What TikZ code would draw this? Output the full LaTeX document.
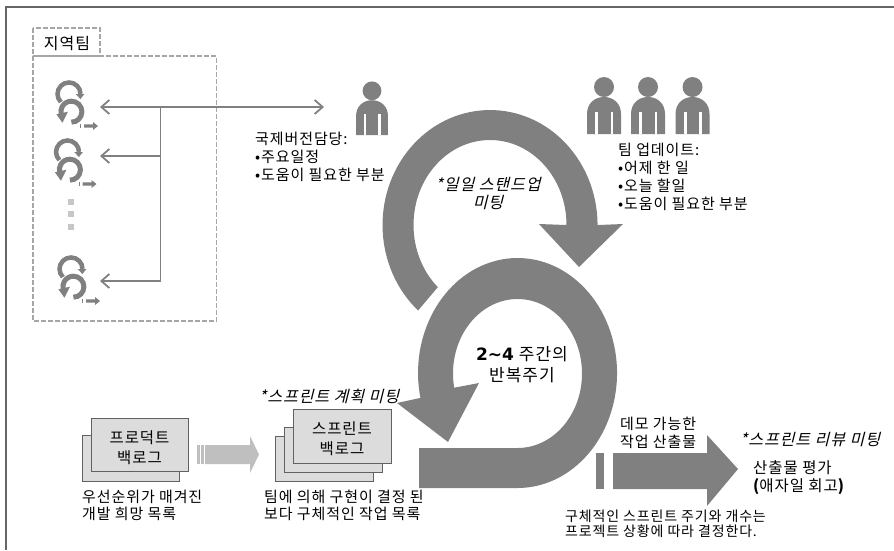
\documentclass[tikz,border=0pt]{standalone}
\usepackage{fontspec}
\setmainfont[LetterSpace=6]{Noto Sans CJK KR}
\newfontfamily\slantkr[FakeSlant=0.25,LetterSpace=6]{Noto Sans CJK KR}
\usetikzlibrary{arrows.meta}
\pgfdeclarelayer{bg}
\pgfsetlayers{bg,main}
\definecolor{scrumgray}{HTML}{808080}
\definecolor{boxfill}{HTML}{DCDCDC}
\tikzset{txt/.style={inner sep=0mm, anchor=north west, align=left, font=\fontsize{15}{18}\selectfont}}
\tikzset{ctxt/.style={inner sep=0mm, align=center, font=\fontsize{16}{20.5}\selectfont}}
\tikzset{meeting/.style={inner sep=0mm, align=center, font=\fontsize{16}{18}\slantkr}}
\tikzset{loopfill/.style={fill=scrumgray, draw=none}}
\tikzset{dashbox/.style={draw=black!35, line width=1.2pt, dash pattern=on 5pt off 2pt}}
\tikzset{stackbox/.style={draw=black!62, fill=boxfill, line width=1pt, inner sep=0mm, align=center, font=\fontsize{15.5}{20}\selectfont}}
\tikzset{conn/.style={draw=scrumgray, line width=1.8pt}}
\tikzset{barb/.style={arrows={-{Straight Barb[length=8pt,width=14pt]}}}}
\tikzset{person/.pic={
    \fill[scrumgray] (0,-47) circle (10);
    \fill[scrumgray] (-17,0) -- (-17,-20) .. controls (-17,-31) and (-9,-37) .. (0,-37)
        .. controls (9,-37) and (17,-31) .. (17,-20) -- (17,0) -- cycle;
    \fill[white] (-8.7,0) rectangle (-6,-22);
    \fill[white] (6.7,0) rectangle (9.4,-22);
}}
\tikzset{miniloop/.pic={
    \draw[scrumgray, line width=4.5pt] (-8.1,8.1) arc[start angle=135, end angle=360, radius=11.5];
    \fill[scrumgray] (6.7,0) -- (15.4,0) -- (11.4,5) -- cycle;
    \draw[scrumgray, line width=5pt] (2.4,28.2) arc[start angle=90, end angle=-195, radius=10.5];
    \fill[scrumgray] (-12.6,20.3) -- (-1,17.7) -- (-6.6,28.7) -- cycle;
    \fill[scrumgray] (11,30) rectangle (12,34);
    \fill[scrumgray] (15,30.3) -- (24,30.3) -- (24,28) -- (29,32) -- (24,36) -- (24,33.7) -- (15,33.7) -- cycle;
}}

\begin{document}
\begin{tikzpicture}[x=1pt, y=-1pt]
    \useasboundingbox (0,0) rectangle (894,550);
    \draw[black!60, line width=1.2pt] (6,550) -- (6,7) -- (894,7);

    \begin{pgfonlayer}{bg}
        \draw[dashbox] (33,28) rectangle (100,56);
        \draw[dashbox] (33,56) rectangle (216.5,321);
    \end{pgfonlayer}
    \node (team) at (67,44) [ctxt] {지역팀};

    \pic at (69,94) {miniloop};
    \pic at (67.5,152) {miniloop};
    \pic at (71,269) {miniloop};
    \fill[black!22] (68,199) rectangle (74,205);
    \fill[black!22] (68,211) rectangle (74,217);
    \fill[black!22] (68,224) rectangle (74,230);

    \coordinate (loop1) at (100,107);
    \coordinate (loop2) at (100,156);
    \coordinate (loop3) at (100,281);
    \coordinate (branch1) at (160.5,107);
    \coordinate (branch2) at (160.5,156);
    \coordinate (branch3) at (160.5,281);
    \coordinate (contact) at (324,107);
    \draw[conn] (branch1) -- (branch3);
    \draw[conn, barb] (branch1) -- (loop1);
    \draw[conn, barb] (branch2) -- (loop2);
    \draw[conn, barb] (branch3) -- (loop3);
    \draw[conn, barb] (branch1) -- (contact);

    \pic at (372,135) [scale=0.94] {person};
    \pic at (604,134) {person};
    \pic at (648,134) {person};
    \pic at (692.5,134) {person};

    \node (liaison) at (255,132) [txt] {국제버전담당:\\•주요일정\\•도움이 필요한 부분};
    \node (update) at (618,143) [txt] {팀 업데이트:\\•어제 한 일\\•오늘 할일\\•도움이 필요한 부분};

    \fill[loopfill] (418.1,310.5) arc[start angle=132, end angle=360, x radius=107.5, y radius=115]
        -- (623,224) -- (579,267) -- (539,224) -- (566.5,225)
        arc[start angle=360, end angle=133, x radius=76.5, y radius=85] -- cycle;
    \fill[loopfill] (419,448) -- (517.5,448)
        arc[start angle=90, end angle=-191, x radius=64.5, y radius=74.5]
        -- (479,383) -- (448,442) -- (397,403) -- (420.4,397.9)
        arc[start angle=-192.5, end angle=90, x radius=99.5, y radius=115] -- (419,488) -- cycle;

    \node (daily) at (488,194) [meeting] {*일일 스탠드업\\미팅};
    \node (cycle) at (522,365) [ctxt, font=\fontsize{17}{21}\selectfont] {{\fontspec{DejaVu Sans}\bfseries 2\char`\~4} 주간의\\반복주기};

    \draw[stackbox] (82,435) rectangle (179,481);
    \draw[stackbox] (91,418) rectangle (188,471);
    \node (product) at (139.5,447.5) [inner sep=0mm, align=center, font=\fontsize{15.5}{20}\selectfont] {프로덕트\\백로그};

    \fill[black!25] (197,445) rectangle (199.5,464);
    \fill[black!25] (201,445) rectangle (203.5,464);
    \fill[black!25] (205,445) -- (250,445) -- (250,436) -- (259,454.5) -- (250,473) -- (250,464) -- (205,464) -- cycle;

    \draw[stackbox] (275,436) rectangle (373,481);
    \draw[stackbox] (284,427) rectangle (382,472);
    \draw[stackbox] (293,409) rectangle (391,463);
    \node (sprint) at (342,439) [inner sep=0mm, align=center, font=\fontsize{15.5}{20}\selectfont] {스프린트\\백로그};

    \node (planning) at (329,396) [meeting] {*스프린트 계획 미팅};
    \node (wishlist) at (82,489.5) [txt, font=\fontsize{15}{17}\selectfont] {우선순위가 매겨진\\개발 희망 목록};
    \node (tasklist) at (264,489.5) [txt, font=\fontsize{15}{17}\selectfont] {팀에 의해 구현이 결정 된\\보다 구체적인 작업 목록};

    \fill[loopfill] (596,453) rectangle (604,489);
    \fill[loopfill] (613,453) -- (707,453) -- (707,435) -- (738,469) -- (707,506) -- (707,489) -- (613,489) -- cycle;

    \node (demo) at (620,416.5) [txt] {데모 가능한\\작업 산출물};
    \node (review) at (810,440) [meeting] {*스프린트 리뷰 미팅};
    \node (evaluate) at (753,460) [txt, font=\fontsize{15.5}{18}\selectfont] {산출물 평가\\{\bfseries(}애자일 회고{\bfseries)}};
    \node (note) at (565,510) [txt, font=\fontsize{14}{15}\selectfont] {구체적인 스프린트 주기와 개수는\\프로젝트 상황에 따라 결정한다.};
\end{tikzpicture}
\end{document}
